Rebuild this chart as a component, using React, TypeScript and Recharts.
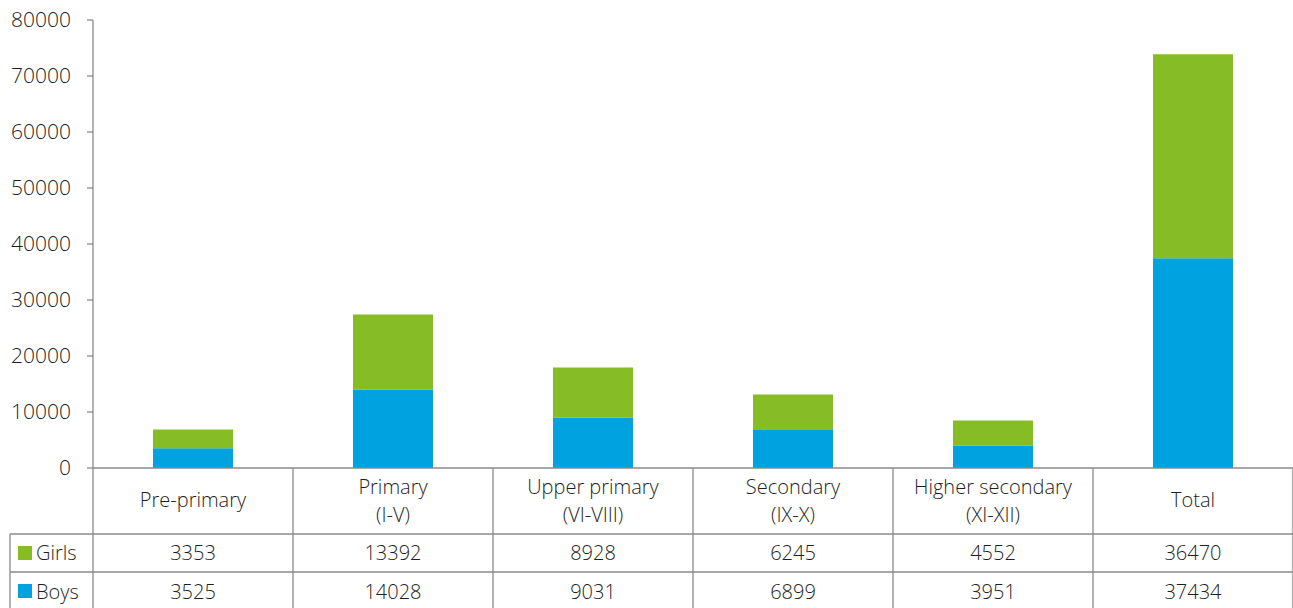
import { BarChart, Bar, XAxis, YAxis } from "recharts";

const categories = ["Pre-primary", "Primary", "Upper primary", "Secondary", "Higher secondary", "Total"];
const subLabels = ["", "(I-V)", "(VI-VIII)", "(IX-X)", "(XI-XII)", ""];
const girls = [3353, 13392, 8928, 6245, 4552, 36470];
const boys = [3525, 14028, 9031, 6899, 3951, 37434];
const yTicks = [0, 10000, 20000, 30000, 40000, 50000, 60000, 70000, 80000];

const GREEN = "#86bc25";
const BLUE = "#00a3e0";
const LINE = "#8a8a8a";
const TEXT = "#1e1e1e";
const FONT = "'Open Sans', 'Noto Sans', sans-serif";

const data = categories.map((name, i) => ({ name, girls: girls[i], boys: boys[i] }));

// x-axis tick that draws one column of the data table under its bar
function TableTick(props: any) {
  const { x, y, payload } = props;
  const i = payload.index;
  const half = payload.offset > 0 ? payload.offset : 100;
  const left = x - half;
  const right = x + half;
  const r1 = y + 66;
  const r2 = y + 104;
  const r3 = y + 140;
  const txt = { fill: TEXT, fontSize: 20, fontFamily: FONT, fontWeight: 300, textAnchor: "middle" as const };
  const sub = subLabels[i];
  return (
    <g>
      <line x1={left} y1={y} x2={left} y2={r3} stroke={LINE} strokeWidth={1.3} />
      {i === categories.length - 1 && (
        <line x1={right - 0.5} y1={y} x2={right - 0.5} y2={r3} stroke="#b0b0b0" strokeWidth={1.3} />
      )}
      <line x1={left} y1={r1} x2={right} y2={r1} stroke={LINE} strokeWidth={1.3} />
      <line x1={left} y1={r2} x2={right} y2={r2} stroke={LINE} strokeWidth={1.3} />
      {sub ? (
        <>
          <text x={x} y={y + 26} {...txt}>{categories[i]}</text>
          <text x={x} y={y + 54} {...txt}>{sub}</text>
        </>
      ) : (
        <text x={x} y={y + 39} {...txt}>{categories[i]}</text>
      )}
      <text x={x} y={r1 + 26} {...txt}>{girls[i]}</text>
      <text x={x} y={r2 + 27} {...txt}>{boys[i]}</text>
      {i === 0 && (
        <g>
          <line x1={10} y1={r1} x2={10} y2={r3} stroke={LINE} strokeWidth={1.3} />
          <line x1={10} y1={r1} x2={left} y2={r1} stroke={LINE} strokeWidth={1.3} />
          <line x1={10} y1={r2} x2={left} y2={r2} stroke={LINE} strokeWidth={1.3} />
          <rect x={18} y={r1 + 12} width={14} height={14} fill={GREEN} />
          <text x={36} y={r1 + 26} {...txt} textAnchor="start">Girls</text>
          <rect x={18} y={r2 + 12} width={14} height={14} fill={BLUE} />
          <text x={36} y={r2 + 27} {...txt} textAnchor="start">Boys</text>
        </g>
      )}
    </g>
  );
}

export default function App() {
  return (
    <div style={{ position: "absolute", left: 0, top: 0, background: "#fff" }}>
      <BarChart
        width={1293}
        height={608}
        data={data}
        margin={{ top: 20, right: 0, left: 0, bottom: 0 }}
      >
        <YAxis
          type="number"
          domain={[0, 80000]}
          ticks={yTicks}
          interval={0}
          width={93}
          axisLine={{ stroke: LINE, strokeWidth: 1.3 }}
          tickLine={{ stroke: LINE, strokeWidth: 1.3 }}
          tickSize={6}
          tickMargin={16}
          tick={{ fill: TEXT, fontSize: 21, fontFamily: FONT, fontWeight: 300 }}
        />
        <XAxis
          dataKey="name"
          height={140}
          interval={0}
          axisLine={{ stroke: LINE, strokeWidth: 1.3 }}
          tickLine={false}
          tickSize={0}
          tickMargin={0}
          tick={<TableTick />}
        />
        <Bar dataKey="boys" stackId="a" fill={BLUE} barSize={80} isAnimationActive={false} />
        <Bar dataKey="girls" stackId="a" fill={GREEN} barSize={80} isAnimationActive={false} />
      </BarChart>
    </div>
  );
}
